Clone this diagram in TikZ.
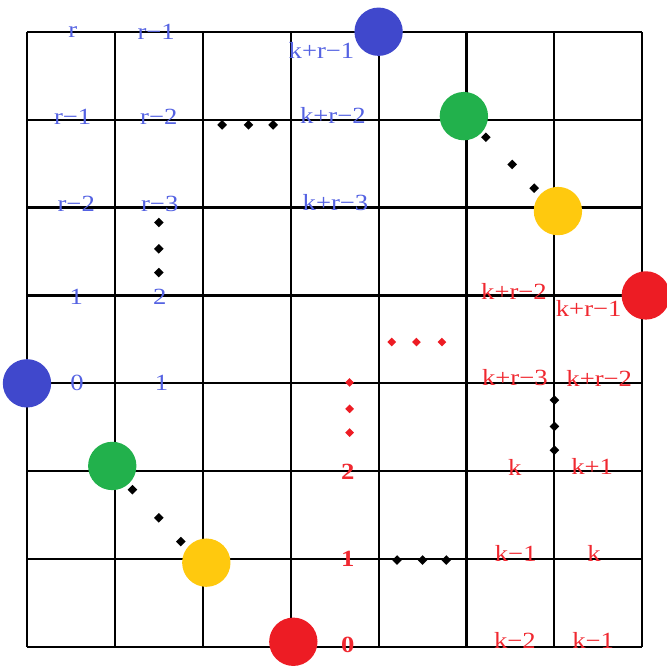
\documentclass[tikz,border=0pt]{standalone}
\usepackage{fontspec}
\usetikzlibrary{shapes.geometric}
\newfontfamily\lblfont[FakeStretch=1.15]{Liberation Serif}
\definecolor{ballblue}{RGB}{64,72,204}
\definecolor{ballgreen}{RGB}{34,177,76}
\definecolor{ballyellow}{RGB}{255,201,14}
\definecolor{ballred}{RGB}{237,28,36}
\definecolor{txtblue}{RGB}{84,98,226}
\definecolor{txtred}{RGB}{240,40,48}
\def\bluelabels{0.52/7.0/r, 1.47/7.0/r−1, 3.35/6.79/k+r−1,
  0.52/6.03/r−1, 1.50/6.03/r−2, 3.48/6.05/k+r−2,
  0.56/5.04/r−2, 1.51/5.04/r−3, 3.51/5.06/k+r−3,
  0.56/3.98/1, 1.51/3.98/2, 0.57/3.0/0, 1.53/3.0/1}
\def\redlabels{5.54/4.05/k+r−2, 6.39/3.85/k+r−1, 5.55/3.06/k+r−3, 6.51/3.06/k+r−2,
  5.55/2.04/k, 6.43/2.06/k+1, 5.56/1.06/k−1, 6.45/1.06/k,
  5.55/0.07/k−2, 6.44/0.07/k−1}
\def\blackdots{1.20/1.79, 1.50/1.47, 1.75/1.20, 5.22/5.80, 5.52/5.49, 5.77/5.22,
  2.22/5.94, 2.52/5.94, 2.80/5.94, 1.50/4.83, 1.50/4.53, 1.50/4.26,
  6.0/2.81, 6.0/2.51, 6.0/2.24, 4.21/0.99, 4.50/0.99, 4.77/0.99}
\def\reddots{3.67/3.01, 3.67/2.71, 3.67/2.44, 4.15/3.47, 4.43/3.47, 4.72/3.47}
\tikzset{
  grade/.style={black, line width=0.7pt},
  ball/.style={circle, inner sep=0pt, minimum size=5.5mm},
  dot/.style={diamond, fill=black, inner sep=0pt, minimum size=1.15mm},
  lbl/.style={inner sep=0pt, font=\lblfont\fontsize{7.5}{8}\selectfont},
}

\begin{document}
\begin{tikzpicture}[x=1cm, y=1cm]
  \useasboundingbox (-0.307,-0.216) rectangle (7.281,7.361);

  % ---------------- grade ----------------
  \draw[grade] (0,0) grid (7,7);

  % ---------------- pontos ----------------
  \foreach \x/\y [count=\i] in \blackdots { \node[dot] (bd\i) at (\x,\y) {}; }
  \foreach \x/\y [count=\i] in \reddots { \node[dot, fill=ballred, minimum size=1.05mm] (rd\i) at (\x,\y) {}; }

  % ---------------- bolas ----------------
  \foreach \c/\x/\y [count=\i] in {ballblue/0/3, ballblue/4/7, ballgreen/0.97/2.06, ballgreen/4.97/6.04,
    ballyellow/2.04/0.96, ballyellow/6.04/4.96, ballred/3.03/0.06, ballred/7.04/4.0}
    { \node[ball, fill=\c] (ball\i) at (\x,\y) {}; }

  % ---------------- rotulos ----------------
  \foreach \x/\y/\t [count=\i] in \bluelabels { \node[lbl, text=txtblue] (bl\i) at (\x,\y) {\t}; }
  \foreach \x/\y/\t [count=\i] in \redlabels { \node[lbl, text=txtred] (rl\i) at (\x,\y) {\t}; }
  \foreach \y/\t [count=\i] in {1.99/2, 1.0/1, 0.02/0}
    { \node[lbl, text=txtred, font=\lblfont\bfseries\fontsize{7.5}{8}\selectfont] (rn\i) at (3.65,\y) {\t}; }
\end{tikzpicture}
\end{document}
